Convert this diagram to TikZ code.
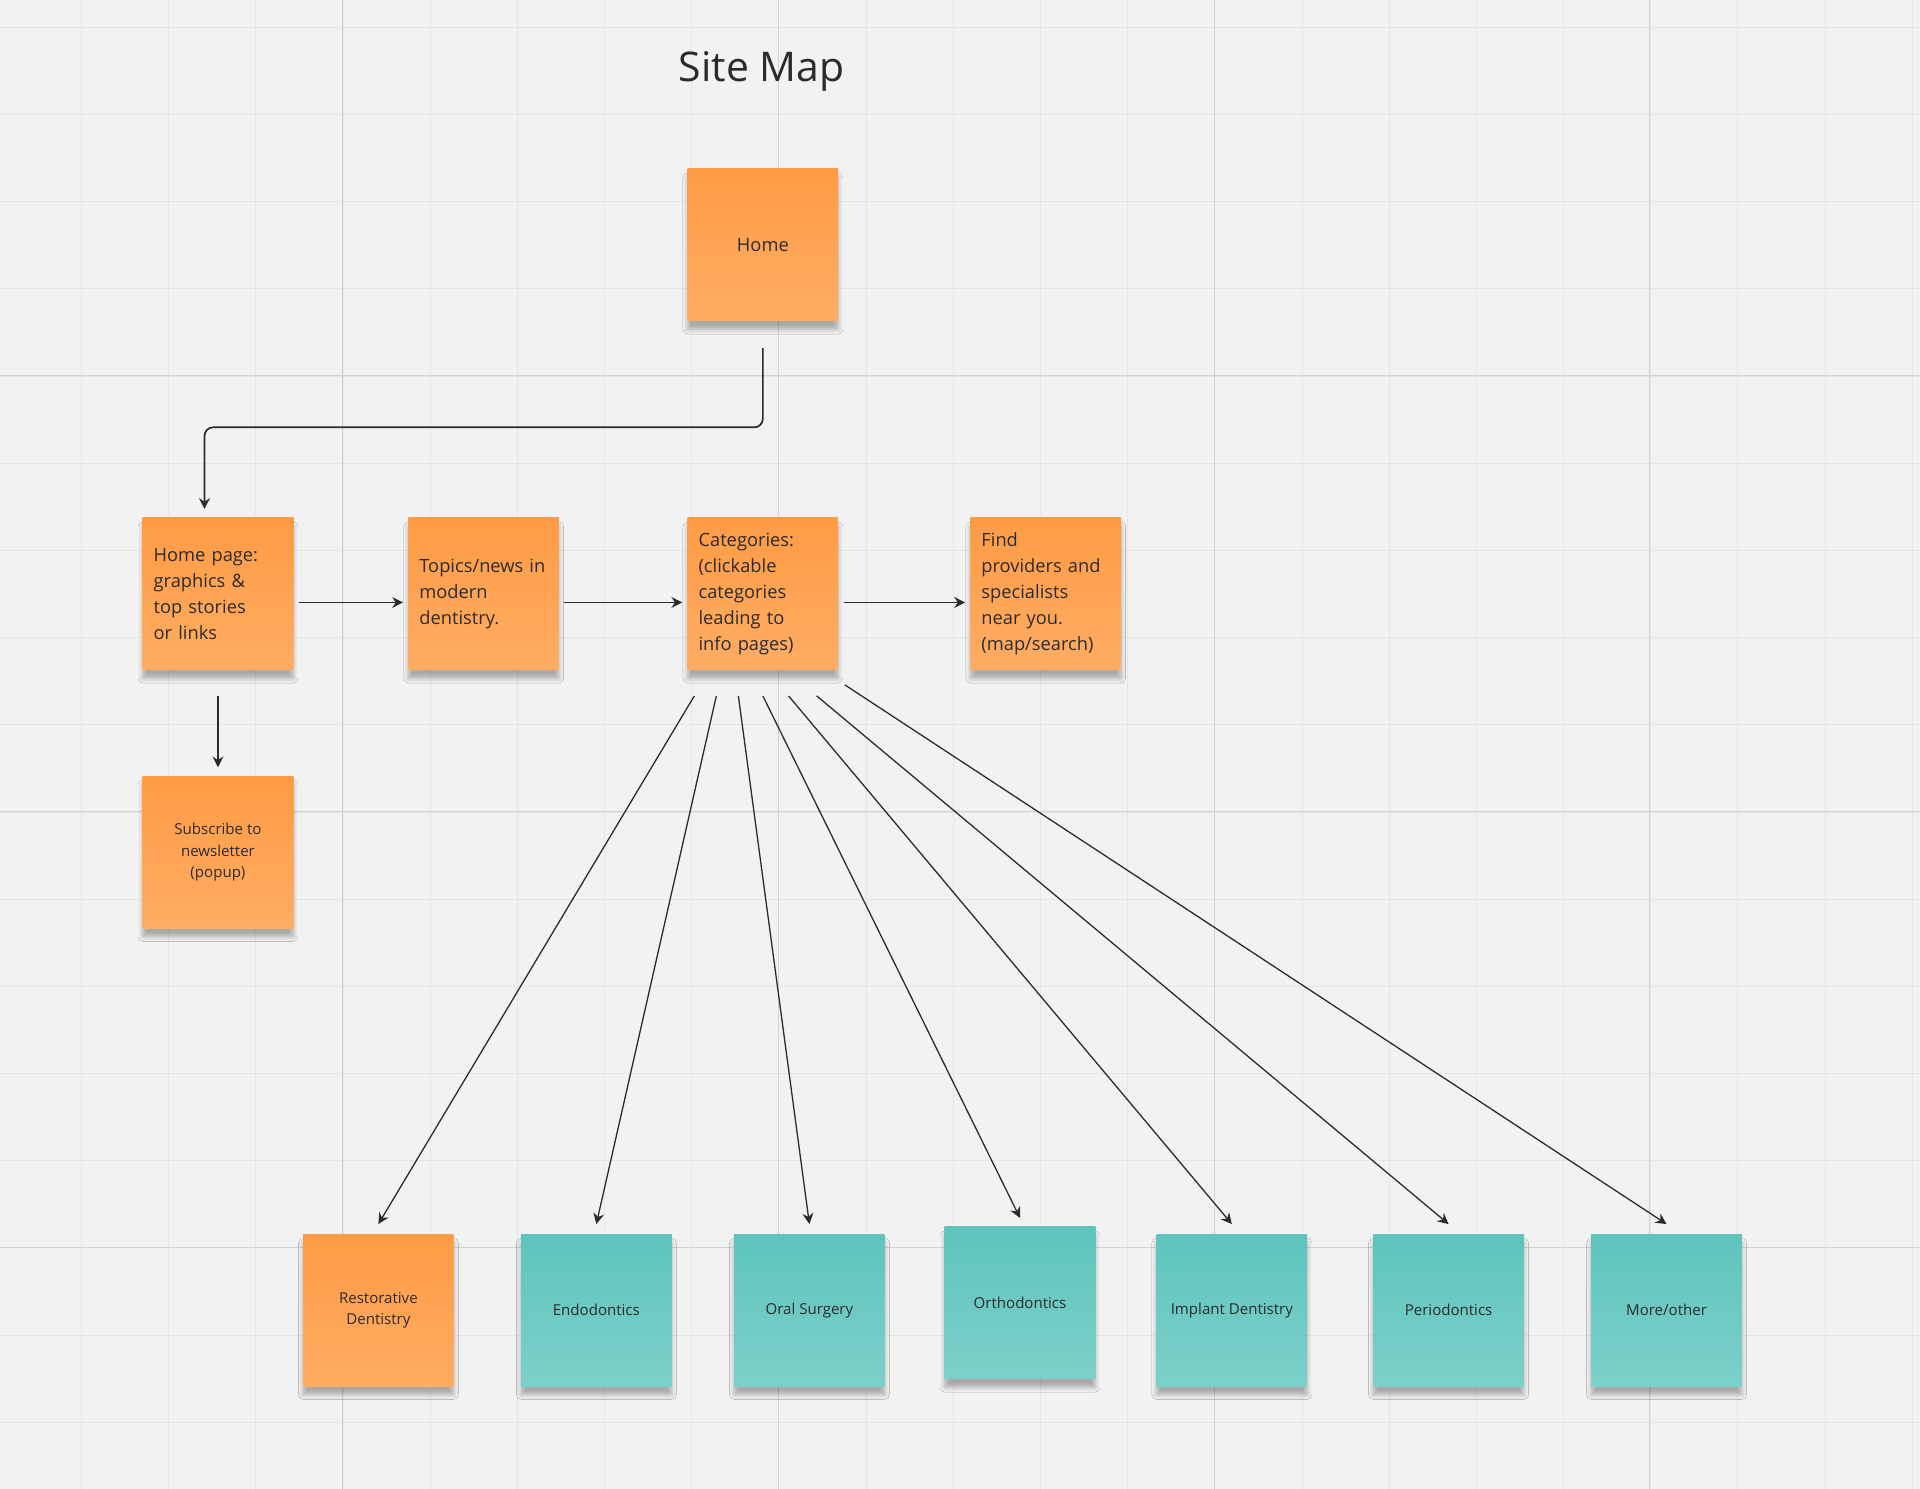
\documentclass[tikz,border=0pt]{standalone}
\usepackage{fontspec}
\setmainfont{Open Sans}
\usetikzlibrary{arrows.meta,shadows.blur}
\definecolor{board}{HTML}{F2F2F2}
\definecolor{gridline}{HTML}{E6E6E6}
\definecolor{orangetop}{HTML}{FF9B45}
\definecolor{orangebot}{HTML}{FFAD63}
\definecolor{tealtop}{HTML}{5EC5BC}
\definecolor{tealbot}{HTML}{7CD0C9}
\definecolor{ink}{HTML}{2B2B2B}
\tikzset{
  note/.style={minimum width=123*0.02cm, minimum height=124*0.02cm, inner sep=0pt,
    blur shadow={shadow xshift=0pt, shadow yshift=-4pt, shadow blur steps=6, shadow opacity=30},
    font=\fontsize{8.5}{12}\selectfont, text=ink},
  orangenote/.style={note, top color=orangetop, bottom color=orangebot},
  tealnote/.style={note, top color=tealtop, bottom color=tealbot, font=\fontsize{7}{10}\selectfont},
  smallnote/.style={font=\fontsize{7}{10}\selectfont, align=center},
  link/.style={draw=ink, line width=0.8pt, -{Stealth[length=5pt,width=5pt]}},
  fan/.style={draw=ink, line width=0.6pt, -{Stealth[length=5pt,width=5pt]}}
}
\begin{document}
\begin{tikzpicture}[x=0.02cm, y=-0.02cm]
\useasboundingbox (0,0) rectangle (1568,1216);
\fill[board] (0,0) rectangle (1568,1216);
\foreach \i in {0,...,22} \draw[gridline, line width=0.3pt] (-4.8+71.2*\i,0) -- (-4.8+71.2*\i,1216);
\foreach \i in {0,...,17} \draw[gridline, line width=0.3pt] (0,22.2+71.2*\i) -- (1568,22.2+71.2*\i);
\foreach \x in {280,636,992,1347} \draw[gridline!80!gray, line width=0.5pt] (\x,0) -- (\x,1216);
\foreach \y in {307,663,1019} \draw[gridline!80!gray, line width=0.5pt] (0,\y) -- (1568,\y);

\node(title) at (622,58) [text=ink, font=\fontsize{19}{22}\selectfont] {Site Map};

% top row
\node(home) at (623,200) [orangenote] {Home};
\node(homepage) at (178,485) [orangenote, align=left, text width=105*0.02cm] {Home page:\\graphics \&\\top stories\\or links};
\node(topics) at (395,485) [orangenote, align=left, text width=105*0.02cm] {Topics/news in\\modern\\dentistry.\\[22pt]};
\node(categories) at (623,485) [orangenote, align=left, text width=105*0.02cm] {Categories:\\(clickable\\categories\\leading to\\info pages)};
\node(find) at (854,485) [orangenote, align=left, text width=105*0.02cm] {Find\\providers and\\specialists\\near you.\\(map/search)};
\node(subscribe) at (178,696) [orangenote, smallnote] {Subscribe to\\newsletter\\(popup)};

% bottom row
\node(restorative) at (309,1070) [orangenote, smallnote] {Restorative\\Dentistry};
\node(endo) at (487,1070) [tealnote] {Endodontics};
\node(oral) at (661,1070) [tealnote] {Oral Surgery};
\node(ortho) at (833,1064) [tealnote] {Orthodontics};
\node(implant) at (1006,1070) [tealnote] {Implant Dentistry};
\node(perio) at (1183,1070) [tealnote] {Periodontics};
\node(more) at (1361,1070) [tealnote] {More/other};

\draw[link, rounded corners=4pt] ([yshift=-22*0.02cm]home.south) |- (167,349) -- ([xshift=-11*0.02cm, yshift=7*0.02cm]homepage.north);
\draw[link, shorten <=4*0.02cm, shorten >=4*0.02cm] ([yshift=-7*0.02cm]homepage.east) -- ([yshift=-7*0.02cm]topics.west);
\draw[link, shorten <=4*0.02cm, shorten >=4*0.02cm] ([yshift=-7*0.02cm]topics.east) -- ([yshift=-7*0.02cm]categories.west);
\draw[link, shorten <=4*0.02cm, shorten >=4*0.02cm] ([yshift=-7*0.02cm]categories.east) -- ([yshift=-7*0.02cm]find.west);
\draw[link, shorten <=21*0.02cm, shorten >=7*0.02cm] (homepage.south) -- (subscribe.north);

% fan to the categories
\draw[fan] ([xshift=-56*0.02cm, yshift=-21*0.02cm]categories.south) -- ([yshift=8*0.02cm]restorative.north);
\draw[fan] ([xshift=-38*0.02cm, yshift=-21*0.02cm]categories.south) -- ([yshift=8*0.02cm]endo.north);
\draw[fan] ([xshift=-20*0.02cm, yshift=-21*0.02cm]categories.south) -- ([yshift=8*0.02cm]oral.north);
\draw[fan] ([xshift=0*0.02cm, yshift=-21*0.02cm]categories.south) -- ([yshift=7*0.02cm]ortho.north);
\draw[fan] ([xshift=21*0.02cm, yshift=-21*0.02cm]categories.south) -- ([yshift=8*0.02cm]implant.north);
\draw[fan] ([xshift=44*0.02cm, yshift=-21*0.02cm]categories.south) -- ([yshift=8*0.02cm]perio.north);
\draw[fan] ([xshift=67*0.02cm, yshift=-12*0.02cm]categories.south) -- ([yshift=8*0.02cm]more.north);
\end{tikzpicture}
\end{document}
